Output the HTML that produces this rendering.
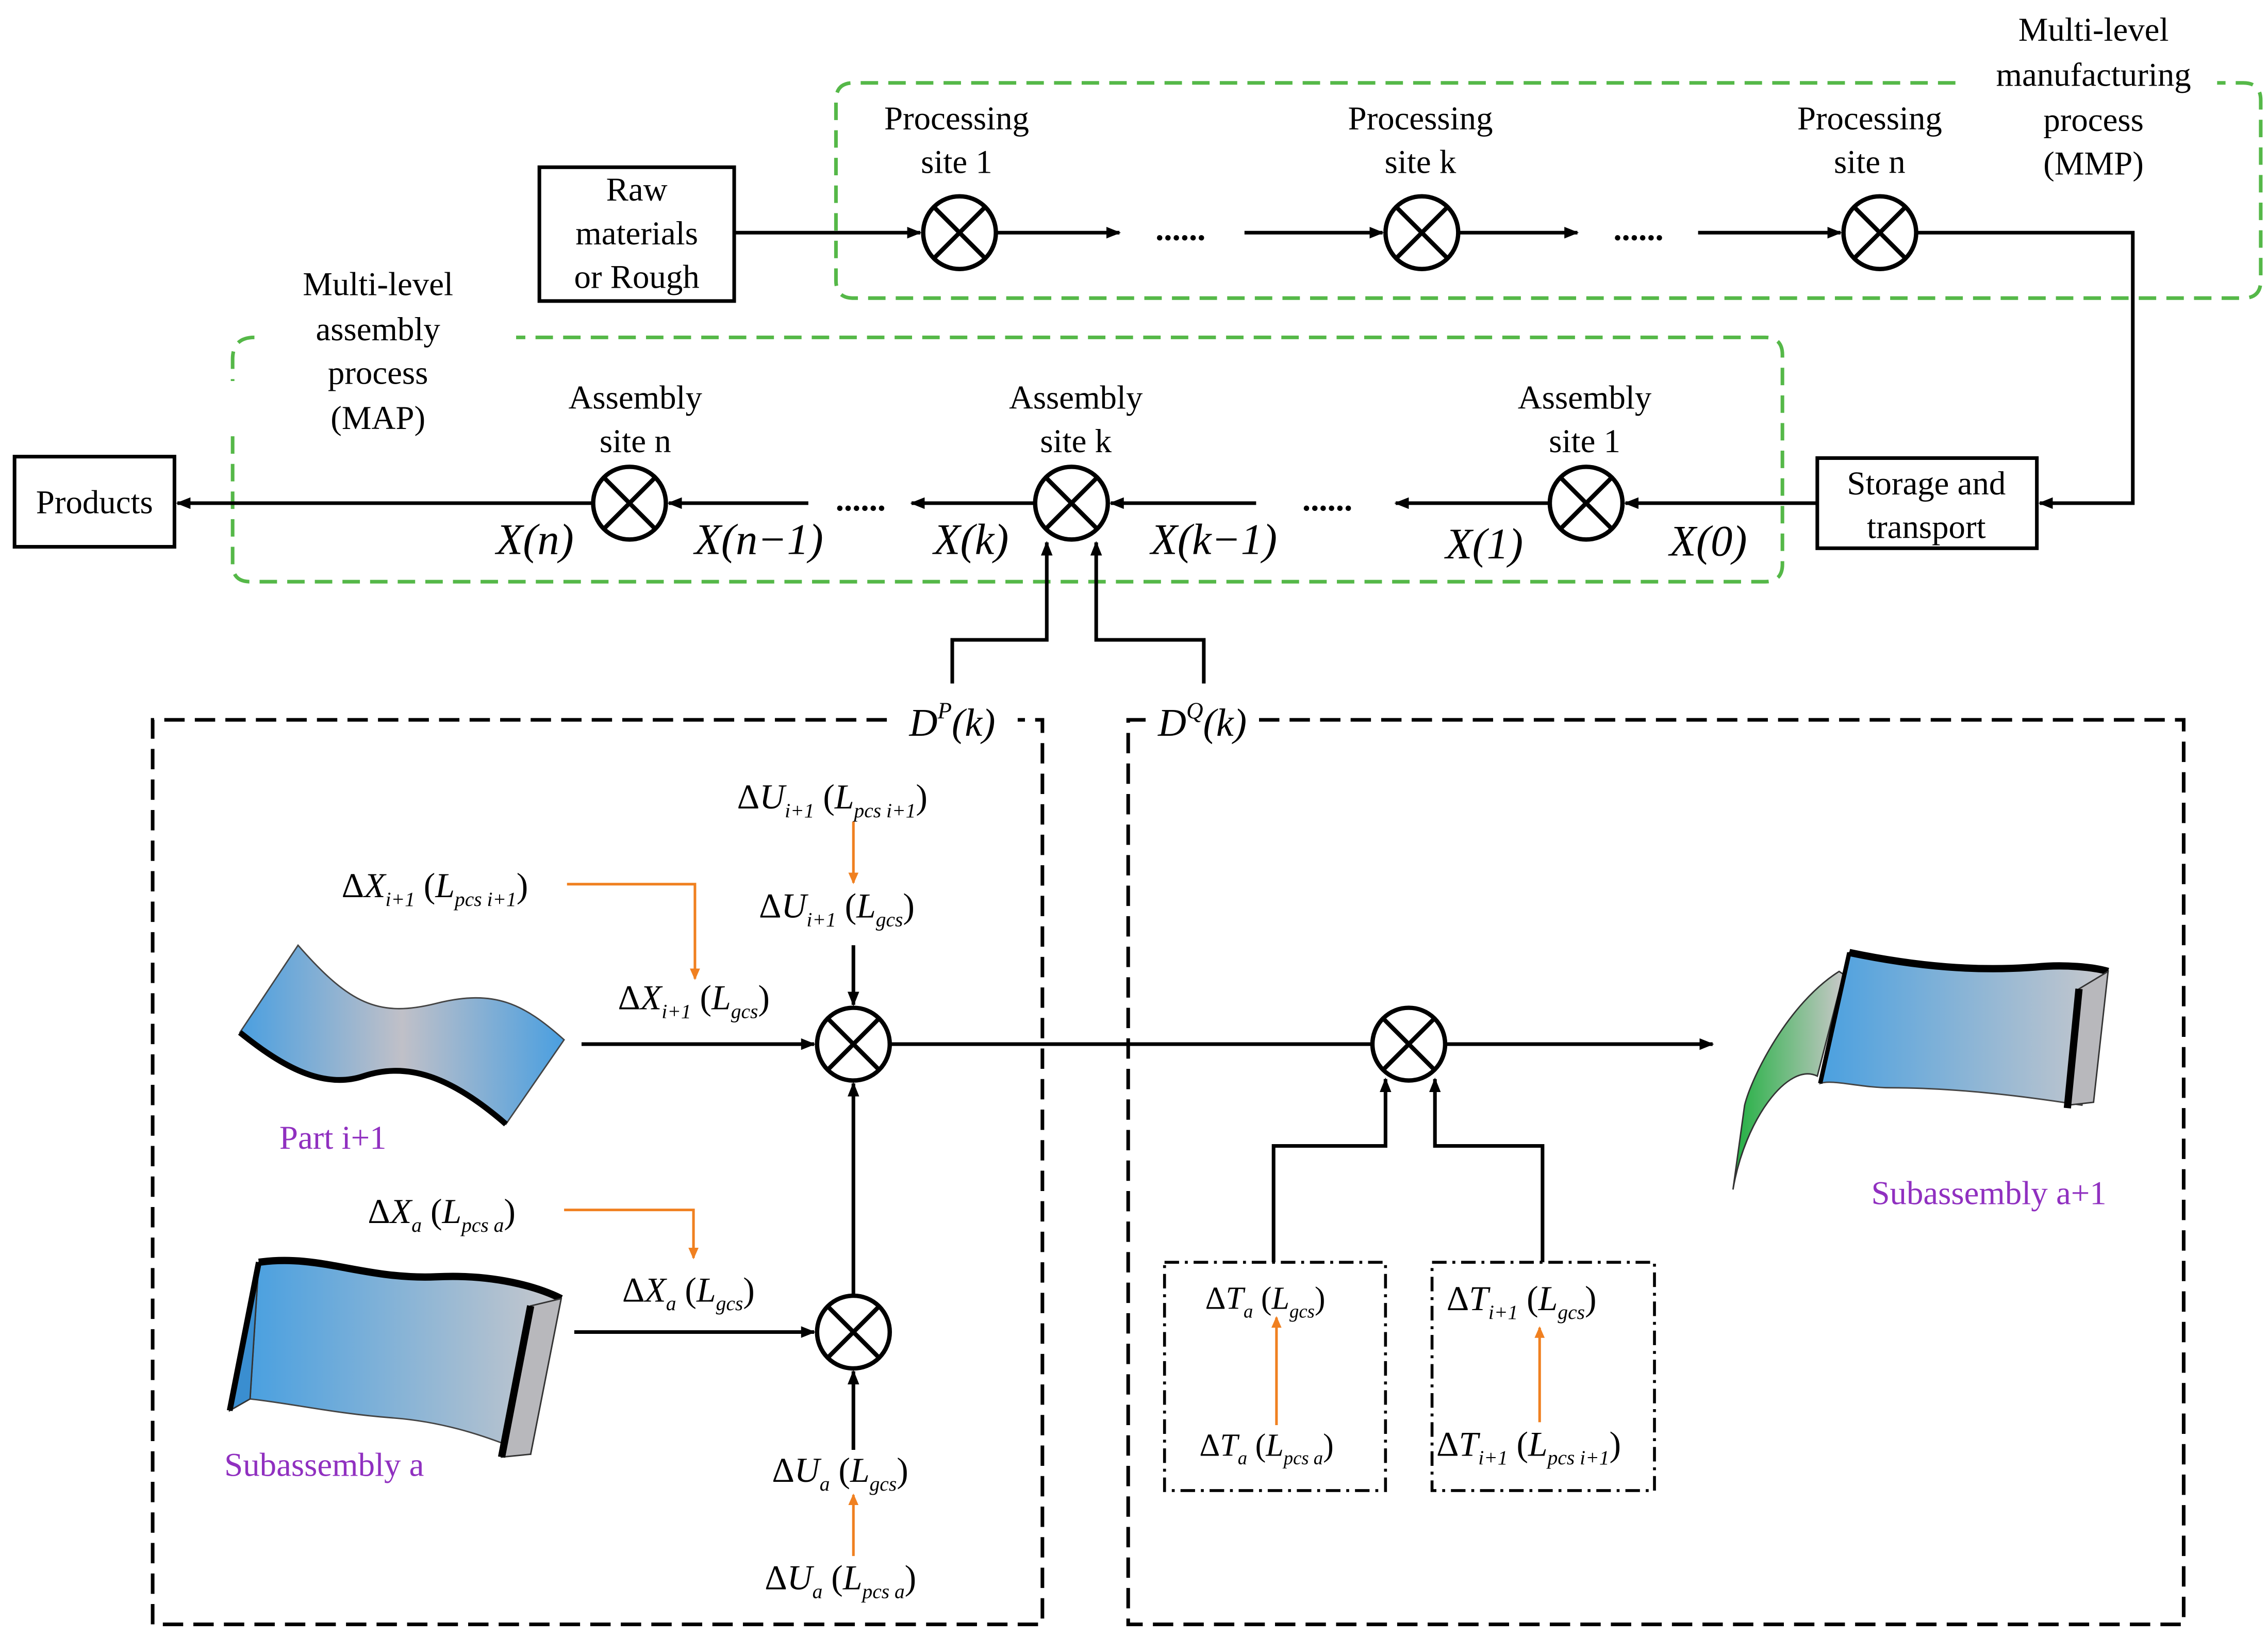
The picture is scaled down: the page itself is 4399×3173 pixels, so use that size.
<!DOCTYPE html>
<html><head><meta charset="utf-8"><style>html,body{margin:0;padding:0;background:#fff}svg{display:block}</style></head><body>
<svg xmlns="http://www.w3.org/2000/svg" width="4399" height="3173" viewBox="0 0 1560 1125" preserveAspectRatio="none" font-family="'Liberation Serif',serif">
<defs>
<marker id="a" markerWidth="10" markerHeight="8" refX="9" refY="4" orient="auto" markerUnits="userSpaceOnUse"><path d="M0,0 L10,4 L0,8 z" fill="#000"/></marker>
<marker id="o" markerWidth="8" markerHeight="7" refX="7" refY="3.5" orient="auto" markerUnits="userSpaceOnUse"><path d="M0,0 L8,3.5 L0,7 z" fill="#f08020"/></marker>
<linearGradient id="g1" x1="0" x2="1"><stop offset="0" stop-color="#4a9fe0"/><stop offset="0.5" stop-color="#c0c0c8"/><stop offset="1" stop-color="#4a9fe0"/></linearGradient>
<linearGradient id="g2" x1="0" x2="1"><stop offset="0" stop-color="#4aa0e0"/><stop offset="1" stop-color="#c8c8cc"/></linearGradient>
<linearGradient id="g3" x1="0" x2="1"><stop offset="0" stop-color="#20b040"/><stop offset="1" stop-color="#c8c8c8"/></linearGradient>
</defs>
<g fill="none" stroke-width="2.5" stroke="#55b848" stroke-dasharray="12,7">
<path d="M1345,57 L587,57 Q575,57 575,69 L575,193 Q575,205 587,205 L1543,205 Q1555,205 1555,193 L1555,69 Q1555,57 1543,57 L1525,57"/>
<path d="M160,300 L160,388 Q160,400 172,400 L1214,400 Q1226,400 1226,388 L1226,244 Q1226,232 1214,232 L355,232 M175,232 Q160,232 160,247 L160,262"/>
</g>
<g fill="none" stroke="#000" stroke-width="2.5" stroke-dasharray="14,7">
<path d="M610,495 L105,495 L105,1117 L717,1117 L717,495 L700,495"/>
<path d="M866,495 L1502,495 L1502,1117 L776,1117 L776,495 L790,495"/>
</g>
<g fill="none" stroke="#000" stroke-width="2" stroke-dasharray="10,4,2,4">
<rect x="801" y="868" width="152" height="157"/>
<rect x="985" y="868" width="153" height="157"/>
</g>
<g fill="#fff" stroke="#000" stroke-width="2.5">
<rect x="371" y="115" width="134" height="92"/>
<rect x="1250" y="315" width="151" height="62"/>
<rect x="10" y="314" width="110" height="62"/>
</g>
<g stroke="#000" stroke-width="2.5" fill="none" marker-end="url(#a)">
<path d="M505,160 L633,160"/><path d="M685,160 L770,160"/><path d="M856,160 L951,160"/><path d="M1003,160 L1085,160"/><path d="M1168,160 L1266,160"/>
<path d="M1318,160 L1467,160 L1467,346 L1403,346"/>
<path d="M1250,346 L1118,346"/><path d="M1066,346 L960,346"/><path d="M864,346 L764,346"/><path d="M712,346 L627,346"/><path d="M556,346 L460,346"/><path d="M408,346 L122,346"/>
<path d="M655,470 L655,440 L720,440 L720,373"/><path d="M828,470 L828,440 L754,440 L754,373"/>
<path d="M400,718 L560,718"/><path d="M612,718 L1178,718"/><path d="M395,916 L560,916"/>
<path d="M587,997 L587,943"/><path d="M587,891 L587,745"/><path d="M587,650 L587,691"/>
<path d="M876,868 L876,788 L953,788 L953,742"/><path d="M1061,868 L1061,788 L987,788 L987,742"/>
</g>
<g stroke="#f08020" stroke-width="1.8" fill="none" marker-end="url(#o)">
<path d="M587,565 L587,607"/><path d="M390,608 L478,608 L478,673"/><path d="M388,832 L477,832 L477,865"/>
<path d="M587,1070 L587,1028"/><path d="M878,980 L878,906"/><path d="M1059,978 L1059,913"/>
</g>
<g fill="#fff" stroke="#000" stroke-width="3">
<circle cx="660" cy="160" r="25"/><circle cx="978" cy="160" r="25"/><circle cx="1293" cy="160" r="25"/>
<circle cx="1091" cy="346" r="25"/><circle cx="737" cy="346" r="25"/><circle cx="433" cy="346" r="25"/>
<circle cx="587" cy="718" r="25"/><circle cx="587" cy="916" r="25"/><circle cx="969" cy="718" r="25"/>
</g>
<g stroke="#000" stroke-width="3">
<path d="M642,142l36,36M678,142l-36,36 M960,142l36,36M996,142l-36,36 M1275,142l36,36M1311,142l-36,36 M1073,328l36,36M1109,328l-36,36 M719,328l36,36M755,328l-36,36 M415,328l36,36M451,328l-36,36 M569,700l36,36M605,700l-36,36 M569,898l36,36M605,898l-36,36 M951,700l36,36M987,700l-36,36"/>
</g>
<g font-size="23" text-anchor="middle" fill="#000">
<text x="438" y="138">Raw</text><text x="438" y="168">materials</text><text x="438" y="198">or Rough</text>
<text x="1325" y="340">Storage and</text><text x="1325" y="370">transport</text>
<text x="65" y="353">Products</text>
<text x="658" y="89">Processing</text><text x="658" y="119">site 1</text>
<text x="977" y="89">Processing</text><text x="977" y="119">site k</text>
<text x="1286" y="89">Processing</text><text x="1286" y="119">site n</text>
<text x="1440" y="28">Multi-level</text><text x="1440" y="59">manufacturing</text><text x="1440" y="90">process</text><text x="1440" y="120">(MMP)</text>
<text x="260" y="203">Multi-level</text><text x="260" y="234">assembly</text><text x="260" y="264">process</text><text x="260" y="295">(MAP)</text>
<text x="437" y="281">Assembly</text><text x="437" y="311">site n</text>
<text x="740" y="281">Assembly</text><text x="740" y="311">site k</text>
<text x="1090" y="281">Assembly</text><text x="1090" y="311">site 1</text>
<text x="812" y="165" font-weight="bold">......</text><text x="1127" y="165" font-weight="bold">......</text>
<text x="913" y="351" font-weight="bold">......</text><text x="592" y="351" font-weight="bold">......</text>
</g>
<g font-size="30" font-style="italic" text-anchor="middle">
<text x="1175" y="382">X(0)</text><text x="1021" y="384">X(1)</text><text x="835" y="381">X(k−1)</text>
<text x="668" y="381">X(k)</text><text x="522" y="381">X(n−1)</text><text x="368" y="381">X(n)</text>
<text x="655" y="506" font-size="27">D<tspan dy="-12" font-size="16">P</tspan><tspan dy="12">(k)</tspan></text>
<text x="827" y="506" font-size="27">D<tspan dy="-12" font-size="16">Q</tspan><tspan dy="12">(k)</tspan></text>
</g>
<g font-size="24" font-style="italic">
<text x="507" y="556"><tspan font-style="normal">Δ</tspan>U<tspan font-size="14" dy="6">i+1</tspan><tspan dy="-6" font-style="normal"> (</tspan>L<tspan font-size="14" dy="6">pcs i+1</tspan><tspan dy="-6" font-style="normal">)</tspan></text>
<text x="522" y="631"><tspan font-style="normal">Δ</tspan>U<tspan font-size="14" dy="6">i+1</tspan><tspan dy="-6" font-style="normal"> (</tspan>L<tspan font-size="14" dy="6">gcs</tspan><tspan dy="-6" font-style="normal">)</tspan></text>
<text x="235" y="617"><tspan font-style="normal">Δ</tspan>X<tspan font-size="14" dy="6">i+1</tspan><tspan dy="-6" font-style="normal"> (</tspan>L<tspan font-size="14" dy="6">pcs i+1</tspan><tspan dy="-6" font-style="normal">)</tspan></text>
<text x="425" y="694"><tspan font-style="normal">Δ</tspan>X<tspan font-size="14" dy="6">i+1</tspan><tspan dy="-6" font-style="normal"> (</tspan>L<tspan font-size="14" dy="6">gcs</tspan><tspan dy="-6" font-style="normal">)</tspan></text>
<text x="253" y="841"><tspan font-style="normal">Δ</tspan>X<tspan font-size="14" dy="6">a</tspan><tspan dy="-6" font-style="normal"> (</tspan>L<tspan font-size="14" dy="6">pcs a</tspan><tspan dy="-6" font-style="normal">)</tspan></text>
<text x="428" y="895"><tspan font-style="normal">Δ</tspan>X<tspan font-size="14" dy="6">a</tspan><tspan dy="-6" font-style="normal"> (</tspan>L<tspan font-size="14" dy="6">gcs</tspan><tspan dy="-6" font-style="normal">)</tspan></text>
<text x="531" y="1019"><tspan font-style="normal">Δ</tspan>U<tspan font-size="14" dy="6">a</tspan><tspan dy="-6" font-style="normal"> (</tspan>L<tspan font-size="14" dy="6">gcs</tspan><tspan dy="-6" font-style="normal">)</tspan></text>
<text x="526" y="1093"><tspan font-style="normal">Δ</tspan>U<tspan font-size="14" dy="6">a</tspan><tspan dy="-6" font-style="normal"> (</tspan>L<tspan font-size="14" dy="6">pcs a</tspan><tspan dy="-6" font-style="normal">)</tspan></text>
<text x="829" y="900" font-size="22"><tspan font-style="normal">Δ</tspan>T<tspan font-size="13" dy="6">a</tspan><tspan dy="-6" font-style="normal"> (</tspan>L<tspan font-size="13" dy="6">gcs</tspan><tspan dy="-6" font-style="normal">)</tspan></text>
<text x="825" y="1001" font-size="22"><tspan font-style="normal">Δ</tspan>T<tspan font-size="13" dy="6">a</tspan><tspan dy="-6" font-style="normal"> (</tspan>L<tspan font-size="13" dy="6">pcs a</tspan><tspan dy="-6" font-style="normal">)</tspan></text>
<text x="995" y="901"><tspan font-style="normal">Δ</tspan>T<tspan font-size="14" dy="6">i+1</tspan><tspan dy="-6" font-style="normal"> (</tspan>L<tspan font-size="14" dy="6">gcs</tspan><tspan dy="-6" font-style="normal">)</tspan></text>
<text x="988" y="1001"><tspan font-style="normal">Δ</tspan>T<tspan font-size="14" dy="6">i+1</tspan><tspan dy="-6" font-style="normal"> (</tspan>L<tspan font-size="14" dy="6">pcs i+1</tspan><tspan dy="-6" font-style="normal">)</tspan></text>
</g>
<g font-size="23" fill="#9030c0" text-anchor="middle">
<text x="229" y="790">Part i+1</text><text x="223" y="1015">Subassembly a</text><text x="1368" y="828">Subassembly a+1</text>
</g>
<path d="M205,650 C240,690 260,700 300,690 C340,680 360,690 388,715 L348,773 C310,740 280,730 250,740 C220,750 190,730 165,710 Z" fill="url(#g1)" stroke="#444" stroke-width="1"/>
<path d="M165,710 C190,730 220,750 250,740 C280,730 310,740 348,773" fill="none" stroke="#000" stroke-width="4"/>
<path d="M178,868 C220,862 250,880 300,878 C340,876 370,885 386,893 L365,1000 C340,990 310,978 270,975 C230,972 200,965 172,962 Z" fill="url(#g2)" stroke="#444" stroke-width="1"/>
<path d="M178,868 L158,970 L172,962 Z" fill="#3a8ed0" stroke="#333" stroke-width="1"/>
<path d="M158,970 L178,868" stroke="#000" stroke-width="4"/>
<path d="M178,868 C220,862 250,880 300,878 C340,876 370,885 386,893" fill="none" stroke="#000" stroke-width="5"/>
<path d="M365,898 L386,893 L365,1000 L345,1002 Z" fill="#b8b8bc" stroke="#333" stroke-width="1"/>
<path d="M365,898 L345,1002" stroke="#000" stroke-width="5"/>
<path d="M1265,668 C1230,690 1205,740 1200,760 L1192,818 C1200,770 1230,730 1250,740 L1268,670 Z" fill="url(#g3)" stroke="#333" stroke-width="1"/>
<path d="M1272,655 C1320,665 1360,668 1400,665 C1420,663 1440,665 1450,668 L1432,760 C1400,755 1350,748 1300,748 C1280,748 1260,742 1252,745 Z" fill="url(#g2)" stroke="#444" stroke-width="1"/>
<path d="M1272,655 C1320,665 1360,668 1400,665 C1420,663 1440,665 1450,668" fill="none" stroke="#000" stroke-width="5"/>
<path d="M1252,745 L1272,655" stroke="#000" stroke-width="3"/>
<path d="M1430,680 L1450,668 L1440,758 L1422,760 Z" fill="#b8b8bc" stroke="#333" stroke-width="1"/>
<path d="M1430,680 L1422,762" stroke="#000" stroke-width="5"/>
</svg>
</body></html>
